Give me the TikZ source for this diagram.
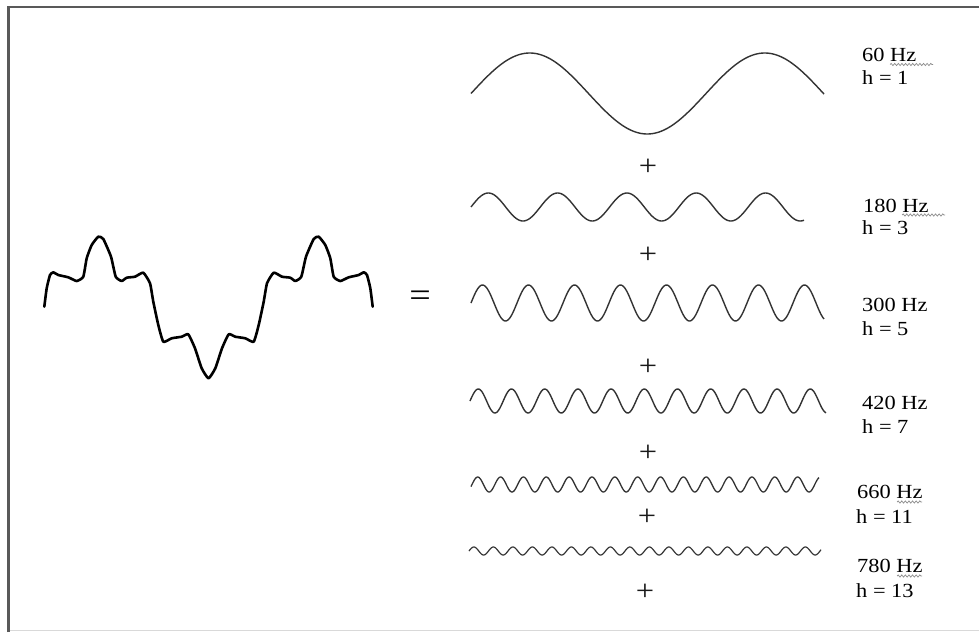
\documentclass[tikz,border=0pt]{standalone}
\usepackage{fontspec}
\newfontfamily\lab[FakeStretch=1.12]{Liberation Serif}
\usetikzlibrary{decorations.pathmorphing}
\begin{document}
\begin{tikzpicture}[x=1pt,y=-1pt,
  wave/.style={draw=black!80, line width=1.4pt, line join=round},
  lbl/.style={font=\lab\fontsize{20}{24}\selectfont, anchor=base west, inner sep=0pt, text=black},
  plussign/.style={font=\lab\fontsize{29}{29}\selectfont, inner sep=0pt, text=black!90},
  squig/.style={draw=black!45, line width=0.7pt, decorate, decoration={snake, amplitude=1.1pt, segment length=3.6pt}},
  framel/.style={draw=black!65, line width=2.6pt}]
\useasboundingbox (0,0) rectangle (979,632);
\fill[white] (0,0) rectangle (979,632);
% frame
\draw[framel] (8.7,632) -- (8.7,6.8) -- (979,6.8);
\draw[draw=black!15, line width=1pt] (10,630.8) -- (979,630.8);

% composite waveform
\draw[draw=black, line width=2.6pt, line join=round, line cap=round]
  plot[smooth, tension=0.3] coordinates {
  (44.3,306.7) (46.7,288.3) (50,275) (53.3,272.3) (58.3,275) (68.3,277.3) (76.7,281)
  (83.3,276.7) (86.7,258.3) (91.7,245) (98.3,236.7) (103.3,239) (111,256.7) (115.7,276.7)
  (121.7,281) (126.7,277.7) (135,276.7) (143.3,272.7) (150,283.3) (153.3,301.7) (158.3,325)
  (163.3,341.7) (171.7,338.3) (181.7,336.7) (188.3,334.3) (195,348.3) (201.7,368.3) (208.5,378.3)
  (215.3,368.3) (222,348.3) (228.7,334.3) (235.3,336.7) (245.3,338.3) (253.7,341.7) (258.7,325)
  (263.7,301.7) (267,283.3) (273.7,272.7) (282,276.7) (290.3,277.7) (295.3,281) (301.3,276.7)
  (306,256.7) (313.7,239) (318.7,236.7) (325.3,245) (330.3,258.3) (333.7,276.7) (340.3,281)
  (348.7,277.3) (358.7,275) (363.7,272.3) (367,275) (370.3,288.3) (372.7,306.7)};

% equals sign
\node[font=\lab\fontsize{34}{34}\selectfont, inner sep=0pt] (eq) at (420,298.5) {=};

% harmonic waves
\draw[wave] plot[domain=471:824, samples=220] (\x, {93.5 - 40.5*sin((\x-471)/235*360)});
\draw[wave] plot[domain=471:804, samples=260] (\x, {207 - 14*sin((\x-471)/69.3*360)});
\draw[wave] plot[domain=471:824, samples=320] (\x, {303 - 18*sin((\x-471)/46*360)});
\draw[wave] plot[domain=470:826, samples=360] (\x, {401 - 12*sin((\x-470)/33.2*360)});
\draw[wave, line width=1.3pt] plot[domain=471:819, samples=420] (\x, {484.5 - 7.5*sin((\x-472)/22.85*360)});
\draw[wave, line width=1.2pt] plot[domain=469:821, samples=460] (\x, {551 - 4*sin((\x-469)/19.5*360)});

% plus signs
\node[plussign] (p1) at (648,167) {+};
\node[plussign] (p2) at (648,255) {+};
\node[plussign] (p3) at (648,367) {+};
\node[plussign] (p4) at (648,453) {+};
\node[plussign] (p5) at (647,517) {+};
\node[plussign] (p6) at (645,592) {+};

% labels
\node[lbl] (f1) at (862,61) {60 Hz};
\node[lbl] (h1) at (862,84.5) {h = 1};
\node[lbl] (f3) at (863,212) {180 Hz};
\node[lbl] (h3) at (862,234) {h = 3};
\node[lbl] (f5) at (862,311) {300 Hz};
\node[lbl] (h5) at (862,335) {h = 5};
\node[lbl] (f7) at (862,409) {420 Hz};
\node[lbl] (h7) at (862,433) {h = 7};
\node[lbl] (f11) at (857,498) {660 Hz};
\node[lbl] (h11) at (856,523) {h = 11};
\node[lbl] (f13) at (857,572) {780 Hz};
\node[lbl] (h13) at (856,597) {h = 13};

% spell-check squiggles
\draw[squig] (890,64.5) -- (933,64.5);
\draw[squig] (902,215) -- (945,215);
\draw[squig] (897,502) -- (922,502);
\draw[squig] (897,576) -- (922,576);
\end{tikzpicture}
\end{document}
